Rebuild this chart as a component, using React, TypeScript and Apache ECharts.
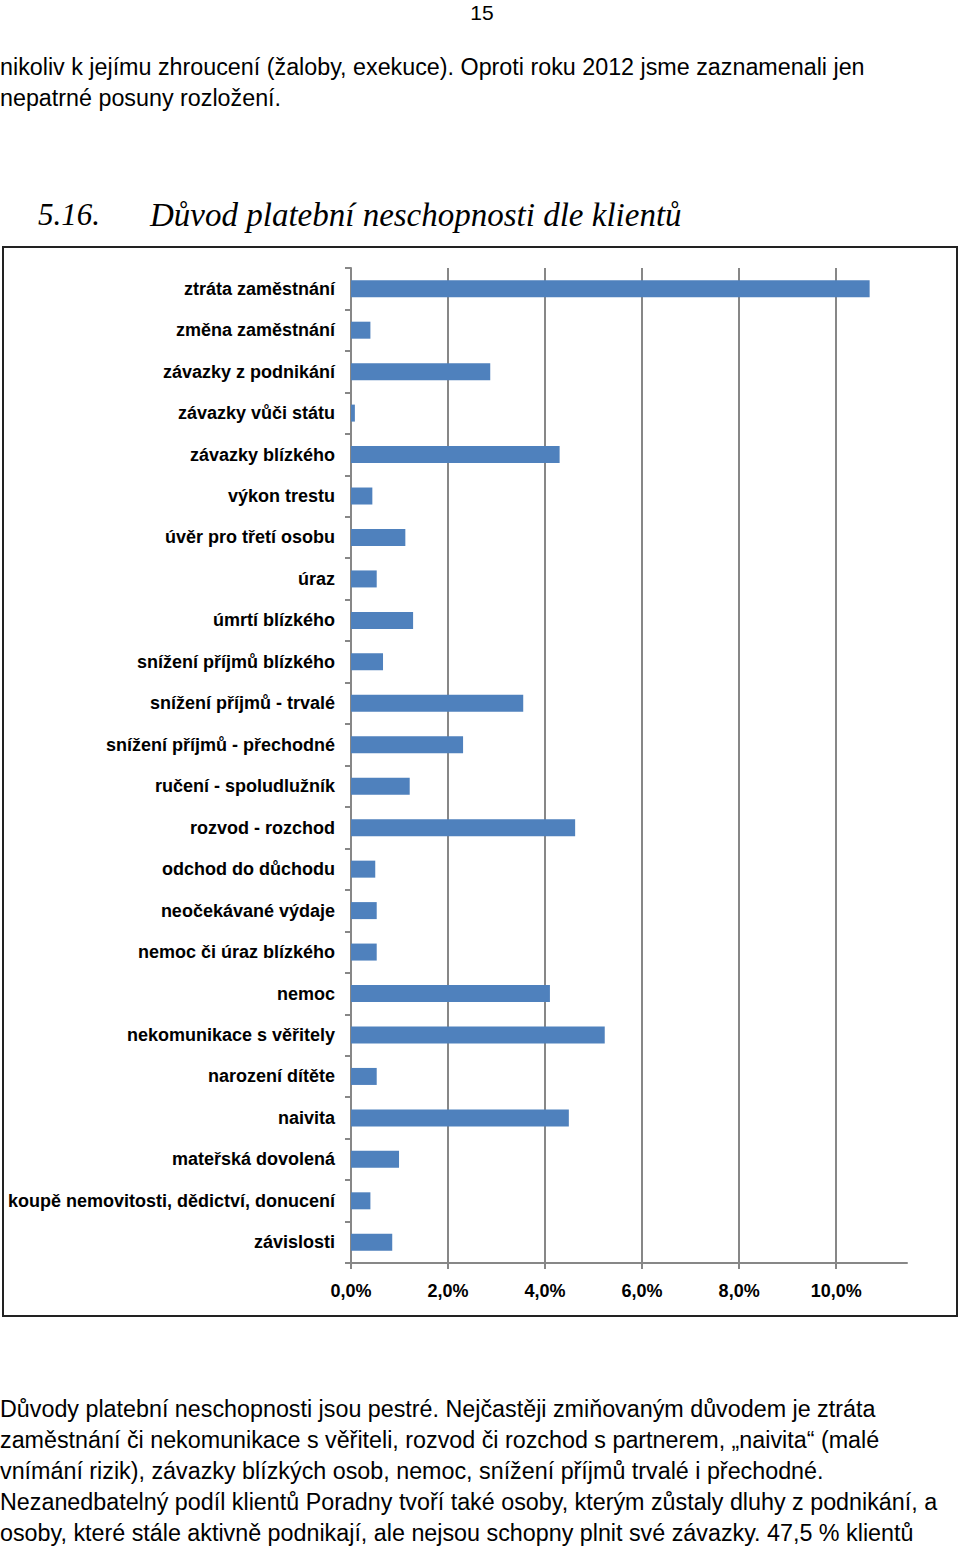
import React, { useEffect, useRef } from "react";
import * as echarts from "echarts";

const categories = [
  "ztráta zaměstnání",
  "změna zaměstnání",
  "závazky z podnikání",
  "závazky vůči státu",
  "závazky blízkého",
  "výkon trestu",
  "úvěr pro třetí osobu",
  "úraz",
  "úmrtí blízkého",
  "snížení příjmů blízkého",
  "snížení příjmů - trvalé",
  "snížení příjmů - přechodné",
  "ručení - spoludlužník",
  "rozvod - rozchod",
  "odchod do důchodu",
  "neočekávané výdaje",
  "nemoc či úraz blízkého",
  "nemoc",
  "nekomunikace s věřitely",
  "narození dítěte",
  "naivita",
  "mateřská dovolená",
  "koupě nemovitosti, dědictví, donucení",
  "závislosti",
];

const values = [
  10.69, 0.4, 2.87, 0.08, 4.3, 0.44, 1.12, 0.53, 1.28, 0.66, 3.55, 2.31, 1.21,
  4.62, 0.5, 0.53, 0.53, 4.1, 5.23, 0.53, 4.49, 0.99, 0.4, 0.85,
];

const xTicks = [0, 2, 4, 6, 8, 10];
const xMax = 11.46;

const pageNumber = "15";
const topLines = [
  "nikoliv k jejímu zhroucení (žaloby, exekuce). Oproti roku 2012 jsme zaznamenali jen",
  "nepatrné posuny rozložení.",
];
const headingNumber = "5.16.";
const headingTitle = "Důvod platební neschopnosti dle klientů";
const bottomLines = [
  "Důvody platební neschopnosti jsou pestré. Nejčastěji zmiňovaným důvodem je ztráta",
  "zaměstnání či nekomunikace s věřiteli, rozvod či rozchod s partnerem, „naivita“ (malé",
  "vnímání rizik), závazky blízkých osob, nemoc, snížení příjmů trvalé i přechodné.",
  "Nezanedbatelný podíl klientů Poradny tvoří také osoby, kterým zůstaly dluhy z podnikání, a",
  "osoby, které stále aktivně podnikají, ale nejsou schopny plnit své závazky. 47,5 % klientů",
];

const AXIS_COLOR = "#878787";
const BAR_COLOR = "#4f81bd";
const SANS = '"Liberation Sans", Arial, sans-serif';
const SERIF = '"Liberation Serif", "Times New Roman", serif';

function Chart() {
  const ref = useRef<HTMLDivElement>(null);
  useEffect(() => {
    if (!ref.current) return;
    const chart = echarts.init(ref.current, undefined, { renderer: "svg" });
    chart.setOption({
      animation: false,
      grid: { left: 351, right: 53, top: 22, bottom: 54 },
      xAxis: {
        type: "value",
        min: 0,
        max: xMax,
        interval: 2,
        axisLine: { show: true, lineStyle: { color: AXIS_COLOR, width: 2 } },
        axisTick: {
          show: true,
          customValues: xTicks,
          length: 6,
          lineStyle: { color: AXIS_COLOR, width: 2 },
        },
        axisLabel: {
          customValues: xTicks,
          formatter: (v: number) => v.toFixed(1).replace(".", ",") + "%",
          fontFamily: SANS,
          fontWeight: "bold",
          fontSize: 18,
          color: "#000",
          margin: 19,
        },
        splitLine: { show: true, lineStyle: { color: AXIS_COLOR, width: 2 } },
      },
      yAxis: {
        type: "category",
        inverse: true,
        data: categories,
        axisLine: { show: true, lineStyle: { color: AXIS_COLOR, width: 2 } },
        axisTick: { show: true, length: 6, lineStyle: { color: AXIS_COLOR, width: 2 } },
        axisLabel: {
          fontFamily: SANS,
          fontWeight: "bold",
          fontSize: 18,
          color: "#000",
          margin: 16,
        },
        splitLine: { show: false },
      },
      series: [
        {
          type: "bar",
          data: values,
          barWidth: 17,
          itemStyle: { color: BAR_COLOR },
        },
      ],
    });
    return () => chart.dispose();
  }, []);
  return (
    <div
      ref={ref}
      style={{ position: "absolute", left: 0, top: 246, width: 960, height: 1071 }}
    />
  );
}

export default function App() {
  const textStyle: React.CSSProperties = {
    position: "absolute",
    left: 0,
    fontFamily: SANS,
    fontSize: 23.3,
    lineHeight: "31px",
    color: "#000",
    whiteSpace: "nowrap",
  };
  const headingStyle: React.CSSProperties = {
    position: "absolute",
    top: 195,
    fontFamily: SERIF,
    fontStyle: "italic",
    fontSize: 33,
    lineHeight: "40px",
    color: "#000",
    whiteSpace: "nowrap",
  };
  return (
    <div
      style={{
        position: "absolute",
        left: 0,
        top: 0,
        width: 960,
        height: 1546,
        background: "#fff",
        overflow: "hidden",
      }}
    >
      <div
        style={{
          position: "absolute",
          left: 470,
          width: 24,
          top: 2,
          textAlign: "center",
          fontFamily: SANS,
          fontSize: 21,
          lineHeight: "22px",
          color: "#000",
          whiteSpace: "nowrap",
        }}
      >
        {pageNumber}
      </div>
      <div style={{ ...textStyle, top: 52 }}>
        {topLines.map((l, i) => (
          <div key={i}>{l}</div>
        ))}
      </div>
      <div style={{ ...headingStyle, left: 38, fontSize: 31 }}>{headingNumber}</div>
      <div style={{ ...headingStyle, left: 150 }}>{headingTitle}</div>
      <div
        style={{
          position: "absolute",
          left: 2,
          top: 246,
          width: 956,
          height: 1071,
          border: "2px solid #222",
          boxSizing: "border-box",
        }}
      />
      <Chart />
      <div style={{ ...textStyle, top: 1394 }}>
        {bottomLines.map((l, i) => (
          <div key={i}>{l}</div>
        ))}
      </div>
    </div>
  );
}
